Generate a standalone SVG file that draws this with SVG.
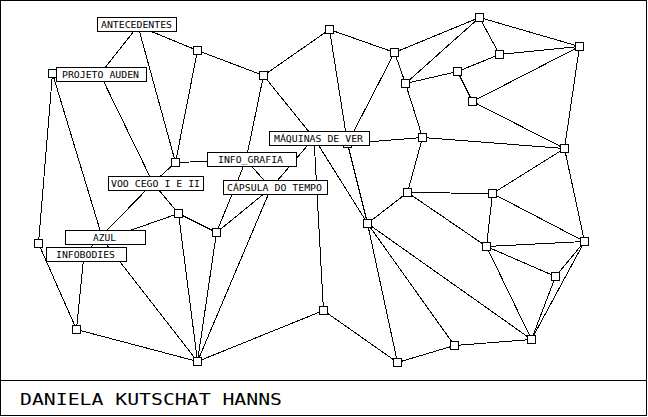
<svg xmlns="http://www.w3.org/2000/svg" width="648" height="417" viewBox="0 0 648 417">
<style>
.frame{fill:#fff;stroke:#000;stroke-width:1}
.edges line{stroke:#000;stroke-width:1}
.nd{fill:#fff;stroke:#000;stroke-width:1}
.lb{fill:#fff;stroke:#000;stroke-width:1}
.lt{font-family:"DejaVu Sans Mono","Liberation Mono",monospace;font-size:8.5px;fill:#000}
.ft{font-family:"DejaVu Sans Mono","Liberation Mono",monospace;font-size:16.5px;fill:#000}
</style>
<rect class="frame" x="0.5" y="0.5" width="646" height="415"/>
<line x1="0" y1="380.5" x2="647" y2="380.5" stroke="#000" stroke-width="1"/>
<g id="connectors" class="edges" shape-rendering="crispEdges">
<line x1="138" y1="26" x2="100" y2="74"/>
<line x1="138" y1="26" x2="175.5" y2="162.5"/>
<line x1="138" y1="26" x2="197.5" y2="50.5"/>
<line x1="197.5" y1="50.5" x2="263.5" y2="75.5"/>
<line x1="197.5" y1="50.5" x2="175.5" y2="162.5"/>
<line x1="52.5" y1="73.5" x2="38.5" y2="243.5"/>
<line x1="52.5" y1="73.5" x2="103" y2="240"/>
<line x1="100" y1="74" x2="153" y2="183"/>
<line x1="175.5" y1="162.5" x2="246" y2="160"/>
<line x1="175.5" y1="162.5" x2="153" y2="183"/>
<line x1="153" y1="183" x2="84" y2="254"/>
<line x1="153" y1="183" x2="178.5" y2="213.5"/>
<line x1="178.5" y1="213.5" x2="103" y2="240"/>
<line x1="178.5" y1="213.5" x2="216.5" y2="232.5"/>
<line x1="178.5" y1="213.5" x2="197.5" y2="361.5"/>
<line x1="216.5" y1="232.5" x2="197.5" y2="361.5"/>
<line x1="271" y1="188" x2="197.5" y2="361.5"/>
<line x1="197.5" y1="361.5" x2="323.5" y2="310.5"/>
<line x1="76.5" y1="329.5" x2="197.5" y2="361.5"/>
<line x1="38.5" y1="243.5" x2="76.5" y2="329.5"/>
<line x1="84" y1="254" x2="76.5" y2="329.5"/>
<line x1="103" y1="240" x2="197.5" y2="361.5"/>
<line x1="263.5" y1="75.5" x2="329.5" y2="29.5"/>
<line x1="329.5" y1="29.5" x2="394.5" y2="52.5"/>
<line x1="329.5" y1="29.5" x2="347.5" y2="143.5"/>
<line x1="263.5" y1="75.5" x2="246" y2="160"/>
<line x1="263.5" y1="75.5" x2="314" y2="138"/>
<line x1="314" y1="138" x2="323.5" y2="310.5"/>
<line x1="314" y1="138" x2="271" y2="188"/>
<line x1="246" y1="160" x2="271" y2="188"/>
<line x1="271" y1="188" x2="216.5" y2="232.5"/>
<line x1="246" y1="160" x2="216.5" y2="232.5"/>
<line x1="314" y1="138" x2="367.5" y2="223.5"/>
<line x1="347.5" y1="143.5" x2="367.5" y2="223.5"/>
<line x1="347.5" y1="143.5" x2="422.5" y2="137.5"/>
<line x1="394.5" y1="52.5" x2="347.5" y2="143.5"/>
<line x1="394.5" y1="52.5" x2="479.5" y2="17.5"/>
<line x1="394.5" y1="52.5" x2="405.5" y2="83.5"/>
<line x1="405.5" y1="83.5" x2="457.5" y2="71.5"/>
<line x1="405.5" y1="83.5" x2="422.5" y2="137.5"/>
<line x1="405.5" y1="83.5" x2="479.5" y2="17.5"/>
<line x1="479.5" y1="17.5" x2="499.5" y2="54.5"/>
<line x1="479.5" y1="17.5" x2="579.5" y2="46.5"/>
<line x1="499.5" y1="54.5" x2="579.5" y2="46.5"/>
<line x1="499.5" y1="54.5" x2="457.5" y2="71.5"/>
<line x1="457.5" y1="71.5" x2="472.5" y2="101.5"/>
<line x1="472.5" y1="101.5" x2="579.5" y2="46.5"/>
<line x1="472.5" y1="101.5" x2="564.5" y2="148.5"/>
<line x1="579.5" y1="46.5" x2="564.5" y2="148.5"/>
<line x1="422.5" y1="137.5" x2="564.5" y2="148.5"/>
<line x1="422.5" y1="137.5" x2="407.5" y2="192.5"/>
<line x1="564.5" y1="148.5" x2="492.5" y2="193.5"/>
<line x1="564.5" y1="148.5" x2="584.5" y2="241.5"/>
<line x1="407.5" y1="192.5" x2="492.5" y2="193.5"/>
<line x1="492.5" y1="193.5" x2="584.5" y2="241.5"/>
<line x1="492.5" y1="193.5" x2="486.5" y2="246.5"/>
<line x1="407.5" y1="192.5" x2="486.5" y2="246.5"/>
<line x1="486.5" y1="246.5" x2="584.5" y2="241.5"/>
<line x1="486.5" y1="246.5" x2="555.5" y2="276.5"/>
<line x1="555.5" y1="276.5" x2="584.5" y2="241.5"/>
<line x1="486.5" y1="246.5" x2="531.5" y2="339.5"/>
<line x1="555.5" y1="276.5" x2="531.5" y2="339.5"/>
<line x1="584.5" y1="241.5" x2="531.5" y2="339.5"/>
<line x1="367.5" y1="223.5" x2="531.5" y2="339.5"/>
<line x1="367.5" y1="223.5" x2="454.5" y2="345.5"/>
<line x1="454.5" y1="345.5" x2="531.5" y2="339.5"/>
<line x1="454.5" y1="345.5" x2="397.5" y2="362.5"/>
<line x1="407.5" y1="192.5" x2="367.5" y2="223.5"/>
<line x1="367.5" y1="223.5" x2="397.5" y2="362.5"/>
<line x1="323.5" y1="310.5" x2="397.5" y2="362.5"/>
</g>
<g id="nodes" shape-rendering="crispEdges">
<g id="n-a"><rect class="nd" x="193.5" y="46.5" width="8" height="8"/></g>
<g id="n-b"><rect class="nd" x="48.5" y="69.5" width="8" height="8"/></g>
<g id="n-c"><rect class="nd" x="171.5" y="158.5" width="8" height="8"/></g>
<g id="n-d"><rect class="nd" x="174.5" y="209.5" width="8" height="8"/></g>
<g id="n-e"><rect class="nd" x="212.5" y="228.5" width="8" height="8"/></g>
<g id="n-f"><rect class="nd" x="34.5" y="239.5" width="8" height="8"/></g>
<g id="n-g"><rect class="nd" x="72.5" y="325.5" width="8" height="8"/></g>
<g id="n-h"><rect class="nd" x="193.5" y="357.5" width="8" height="8"/></g>
<g id="n-i"><rect class="nd" x="325.5" y="25.5" width="8" height="8"/></g>
<g id="n-j"><rect class="nd" x="259.5" y="71.5" width="8" height="8"/></g>
<g id="n-k"><rect class="nd" x="390.5" y="48.5" width="8" height="8"/></g>
<g id="n-l"><rect class="nd" x="401.5" y="79.5" width="8" height="8"/></g>
<g id="n-m"><rect class="nd" x="343.5" y="139.5" width="8" height="8"/></g>
<g id="n-n"><rect class="nd" x="363.5" y="219.5" width="8" height="8"/></g>
<g id="n-o"><rect class="nd" x="403.5" y="188.5" width="8" height="8"/></g>
<g id="n-p"><rect class="nd" x="319.5" y="306.5" width="8" height="8"/></g>
<g id="n-q"><rect class="nd" x="393.5" y="358.5" width="8" height="8"/></g>
<g id="n-r"><rect class="nd" x="475.5" y="13.5" width="8" height="8"/></g>
<g id="n-s"><rect class="nd" x="575.5" y="42.5" width="8" height="8"/></g>
<g id="n-t"><rect class="nd" x="495.5" y="50.5" width="8" height="8"/></g>
<g id="n-u"><rect class="nd" x="453.5" y="67.5" width="8" height="8"/></g>
<g id="n-v"><rect class="nd" x="468.5" y="97.5" width="8" height="8"/></g>
<g id="n-w"><rect class="nd" x="418.5" y="133.5" width="8" height="8"/></g>
<g id="n-x"><rect class="nd" x="560.5" y="144.5" width="8" height="8"/></g>
<g id="n-y"><rect class="nd" x="488.5" y="189.5" width="8" height="8"/></g>
<g id="n-z"><rect class="nd" x="580.5" y="237.5" width="8" height="8"/></g>
<g id="n-aa"><rect class="nd" x="482.5" y="242.5" width="8" height="8"/></g>
<g id="n-ab"><rect class="nd" x="551.5" y="272.5" width="8" height="8"/></g>
<g id="n-ac"><rect class="nd" x="527.5" y="335.5" width="8" height="8"/></g>
<g id="n-ad"><rect class="nd" x="450.5" y="341.5" width="8" height="8"/></g>
</g>
<g id="labels">
<g id="antecedentes"><rect class="lb" x="97.5" y="17.5" width="79" height="14" shape-rendering="crispEdges"/><text class="lt" x="101" y="28" textLength="71" lengthAdjust="spacingAndGlyphs">ANTECEDENTES</text></g>
<g id="projeto-auden"><rect class="lb" x="56.5" y="67.5" width="90" height="14" shape-rendering="crispEdges"/><text class="lt" x="62" y="78" textLength="77" lengthAdjust="spacingAndGlyphs">PROJETO AUDEN</text></g>
<g id="maquinas-de-ver"><rect class="lb" x="269.5" y="131.5" width="100" height="14" shape-rendering="crispEdges"/><text class="lt" x="274" y="142" textLength="89" lengthAdjust="spacingAndGlyphs">MÁQUINAS DE VER</text></g>
<g id="info-grafia"><rect class="lb" x="207.5" y="152.5" width="89" height="14" shape-rendering="crispEdges"/><text class="lt" x="218" y="163" textLength="65" lengthAdjust="spacingAndGlyphs">INFO_GRAFIA</text></g>
<g id="voo-cego"><rect class="lb" x="108.5" y="176.5" width="95" height="14" shape-rendering="crispEdges"/><text class="lt" x="111" y="187" textLength="89" lengthAdjust="spacingAndGlyphs">VOO CEGO I E II</text></g>
<g id="capsula-do-tempo"><rect class="lb" x="223.5" y="180.5" width="104" height="14" shape-rendering="crispEdges"/><text class="lt" x="227" y="191" textLength="95" lengthAdjust="spacingAndGlyphs">CÁPSULA DO TEMPO</text></g>
<g id="azul"><rect class="lb" x="65.5" y="230.5" width="80" height="14" shape-rendering="crispEdges"/><text class="lt" x="93" y="241" textLength="23" lengthAdjust="spacingAndGlyphs">AZUL</text></g>
<g id="infobodies"><rect class="lb" x="46.5" y="247.5" width="80" height="14" shape-rendering="crispEdges"/><text class="lt" x="56" y="258" textLength="59" lengthAdjust="spacingAndGlyphs">INFOBODIES</text></g>
</g>
<text class="ft" x="20" y="405" textLength="262" lengthAdjust="spacingAndGlyphs">DANIELA KUTSCHAT HANNS</text>
</svg>
